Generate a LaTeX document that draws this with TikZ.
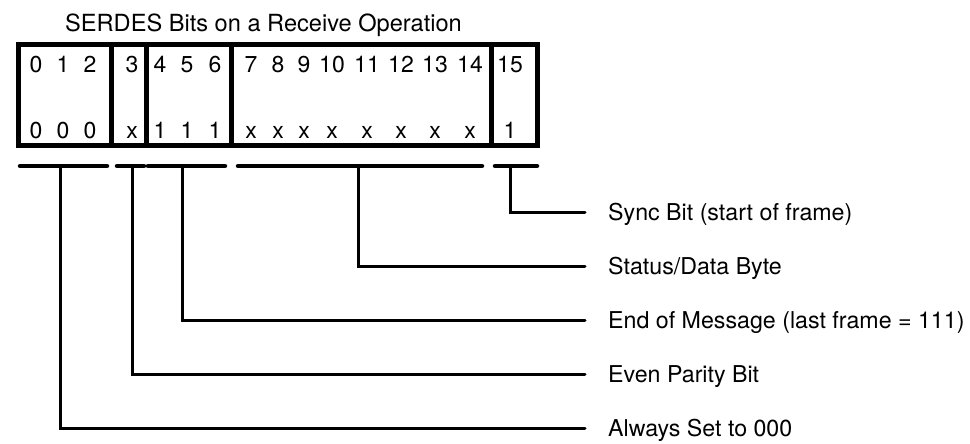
\documentclass[tikz,border=0pt]{standalone}
\usepackage{fontspec}
\setmainfont{TeX Gyre Heros}
\usetikzlibrary{positioning}
\begin{document}
\begin{tikzpicture}[x=1pt, y=-1pt,
  boxline/.style={line width=5pt},
  bracket/.style={line width=4.5pt, line cap=round},
  lead/.style={line width=3pt, line cap=round},
  bitnum/.style={font=\fontsize{23}{23}\selectfont, inner sep=0pt, anchor=base},
  desc/.style={font=\fontsize{23.2}{23.2}\selectfont, inner sep=0pt, anchor=west,
    text height=16.6pt, text depth=0pt}]
  \useasboundingbox (0,0) rectangle (970,444);

  % Title
  \node[font=\fontsize{23.6}{23.6}\selectfont, inner sep=0pt, anchor=base west]
    (title) at (65,32) {SERDES Bits on a Receive Operation};

  % Register frame and field dividers
  \draw[boxline] (18,45) rectangle (537,145);
  \foreach \x in {111,146,231,491}
    \draw[boxline] (\x,45) -- (\x,145);

  % Bit numbers and received values
  \foreach \x/\v [count=\i from 0] in {36/0, 63/0, 90/0, 132/x, 160/1, 187/1, 215/1,
      251/x, 278/x, 304/x, 332/x, 367/x, 401/x, 435/x, 470/x, 510/1} {
    \node[bitnum] (bit\i) at (\x,73) {\i};
    \node[bitnum] (val\i) at (\x,139) {\v};
  }

  % Field brackets
  \draw[bracket] (20,166) -- (107,166);
  \draw[bracket] (117,166) -- (144,166);
  \draw[bracket] (148,166) -- (225,166);
  \draw[bracket] (238,166) -- (482,166);
  \draw[bracket] (495,166) -- (537,166);

  \coordinate (zerostem) at (60,166);
  \coordinate (paritystem) at (132,166);
  \coordinate (eomstem) at (182,166);
  \coordinate (datastem) at (358,166);
  \coordinate (syncstem) at (510,166);

  \coordinate (syncend) at (585,212);
  \coordinate (dataend) at (585,266);
  \coordinate (eomend) at (585,320);
  \coordinate (parityend) at (585,374);
  \coordinate (zeroend) at (585,428);

  % Descriptions
  \node[desc, right=23pt of syncend] (sync) {Sync Bit (start of frame)};
  \node[desc, right=23pt of dataend] (data) {Status/Data Byte};
  \node[desc, right=23pt of eomend] (eom) {End of Message (last frame = 111)};
  \node[desc, right=23pt of parityend] (parity) {Even Parity Bit};
  \node[desc, right=23pt of zeroend] (zero) {Always Set to 000};

  % Leader lines
  \draw[lead] (syncstem) |- (syncend);
  \draw[lead] (datastem) |- (dataend);
  \draw[lead] (eomstem) |- (eomend);
  \draw[lead] (paritystem) |- (parityend);
  \draw[lead] (zerostem) |- (zeroend);
\end{tikzpicture}
\end{document}
